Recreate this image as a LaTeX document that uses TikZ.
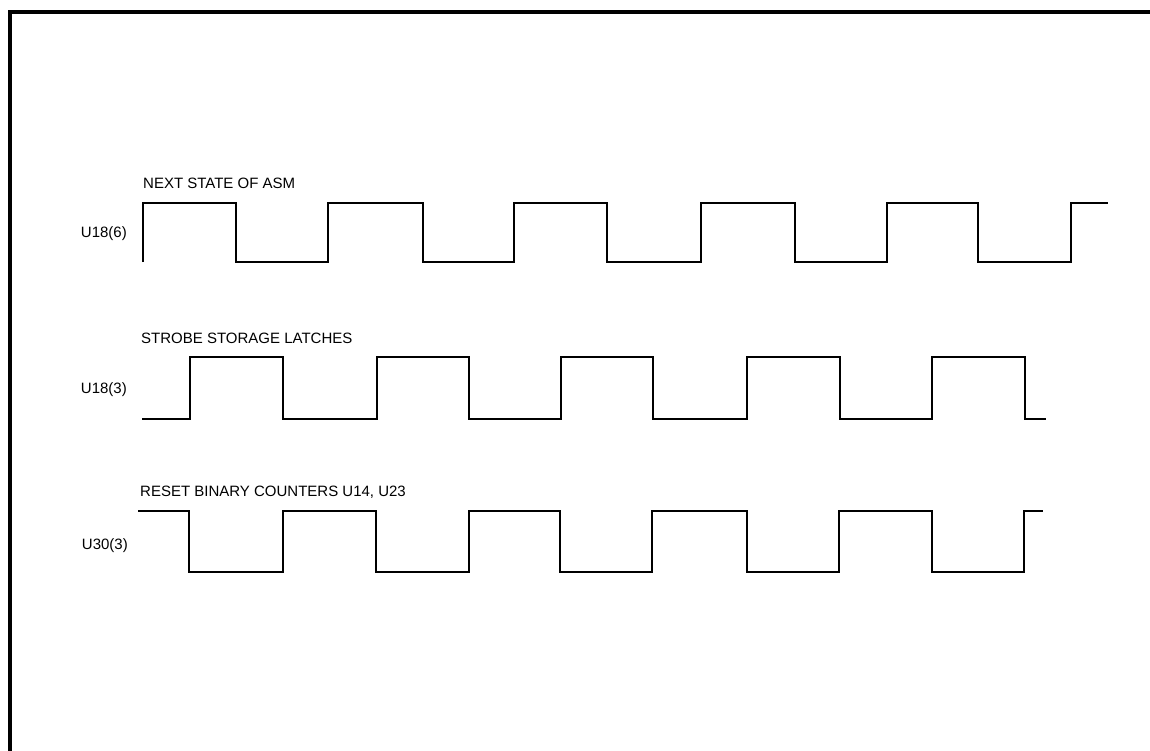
\documentclass[tikz,border=0pt]{standalone}
\usepackage{fontspec}
\setmainfont{Liberation Sans}
\begin{document}
\begin{tikzpicture}[x=1pt,y=-1pt,
  wave/.style={line width=2.8pt,line join=miter,line cap=butt},
  frameline/.style={line width=3.2pt},
  sig/.style={anchor=east,inner sep=0pt,font=\fontsize{15}{17}\selectfont},
  title/.style={anchor=base west,inner sep=0pt,font=\fontsize{15}{17}\selectfont}]
\useasboundingbox[fill=white] (0,0) rectangle (1150,751);
% frame
\draw[frameline] (1150,12) -- (10,12) -- (10,751);
% labels
\node[title] (t1) at (143,189) {NEXT STATE OF ASM};
\node[title] (t2) at (141,343) {STROBE STORAGE LATCHES};
\node[title] (t3) at (140,496) {RESET BINARY COUNTERS U14, U23};
\node[sig] (s1) at (127,234) {U18(6)};
\node[sig] (s2) at (127,390) {U18(3)};
\node[sig] (s3) at (128,546) {U30(3)};
% waveform 1
\draw[wave] (143,262) -- (143,203) -- (236,203) -- (236,262) -- (328,262) -- (328,203)
  -- (423,203) -- (423,262) -- (514,262) -- (514,203) -- (607,203) -- (607,262)
  -- (701,262) -- (701,203) -- (795,203) -- (795,262) -- (887,262) -- (887,203)
  -- (978,203) -- (978,262) -- (1071,262) -- (1071,203) -- (1108,203);
% waveform 2
\draw[wave] (142,419) -- (190,419) -- (190,357) -- (283,357) -- (283,419) -- (377,419)
  -- (377,357) -- (469,357) -- (469,419) -- (561,419) -- (561,357) -- (653,357)
  -- (653,419) -- (747,419) -- (747,357) -- (840,357) -- (840,419) -- (932,419)
  -- (932,357) -- (1025,357) -- (1025,419) -- (1046,419);
% waveform 3
\draw[wave] (138,511) -- (189,511) -- (189,572) -- (283,572) -- (283,511) -- (376,511)
  -- (376,572) -- (469,572) -- (469,511) -- (560,511) -- (560,572) -- (652,572)
  -- (652,511) -- (747,511) -- (747,572) -- (839,572) -- (839,511) -- (932,511)
  -- (932,572) -- (1024,572) -- (1024,511) -- (1043,511);
\end{tikzpicture}
\end{document}
